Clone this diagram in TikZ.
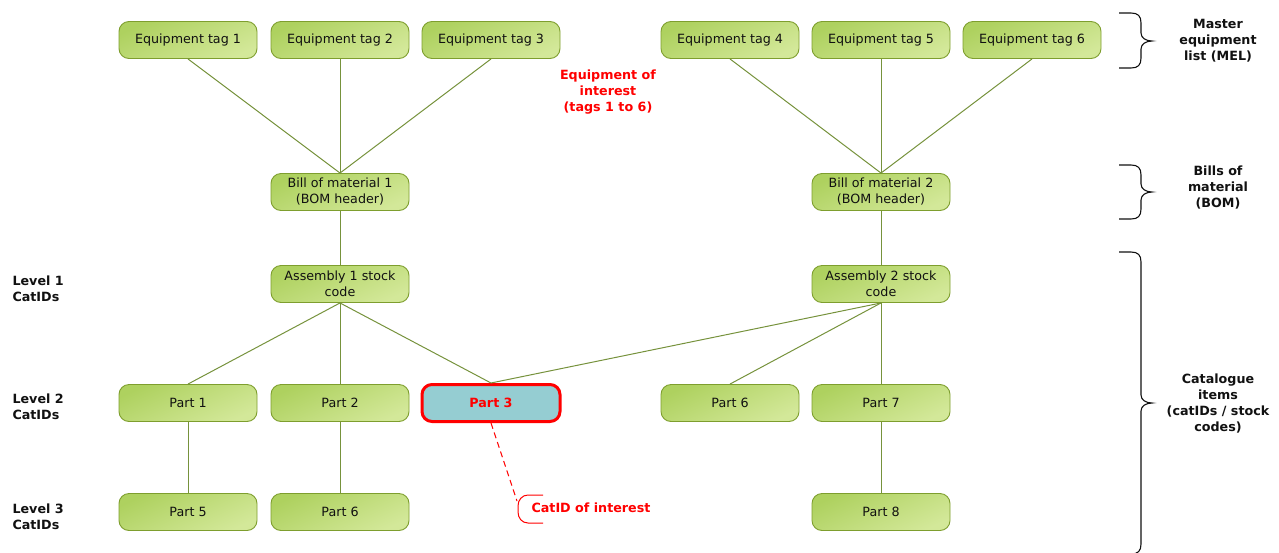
\documentclass[tikz,border=0pt]{standalone}
\usepackage{fontspec}
\setmainfont{DejaVu Sans}
\definecolor{boxdark}{HTML}{AED15F}
\definecolor{boxlight}{HTML}{D3E899}
\definecolor{boxedge}{HTML}{7E9E2E}
\definecolor{linkgreen}{HTML}{76923C}
\definecolor{focusfill}{HTML}{95CDD2}
\definecolor{hilite}{HTML}{FF0000}
\definecolor{inktext}{HTML}{111111}
\begin{document}
\begin{tikzpicture}[x=1pt,y=-1pt,
  every node/.style={font=\fontsize{12.7}{16}\selectfont, text=inktext},
  itembox/.style={draw=boxedge, line width=0.9pt, rounded corners=10pt,
    top color=boxdark, bottom color=boxlight, shading angle=25,
    minimum width=138pt, minimum height=37pt, inner sep=0pt, align=center},
  focusbox/.style={draw=hilite, line width=3pt, rounded corners=10pt,
    fill=focusfill, minimum width=138pt, minimum height=37pt, inner sep=0pt,
    align=center, font=\fontsize{12.7}{16}\selectfont\bfseries, text=hilite},
  link/.style={draw=linkgreen, line width=1pt},
  sidelabel/.style={font=\fontsize{12.7}{16}\selectfont\bfseries, align=center},
  levellabel/.style={font=\fontsize{12.7}{16}\selectfont\bfseries, align=left, anchor=west},
  note/.style={font=\fontsize{12.7}{16}\selectfont\bfseries, text=hilite, align=center},
  curly/.style={draw=inktext, line width=1.1pt}
]
\useasboundingbox (0,0) rectangle (1279,552);

% master equipment list
\node[itembox] (t1) at (188,40) {Equipment tag 1};
\node[itembox] (t2) at (340,40) {Equipment tag 2};
\node[itembox] (t3) at (491,40) {Equipment tag 3};
\node[itembox] (t4) at (730,40) {Equipment tag 4};
\node[itembox] (t5) at (881,40) {Equipment tag 5};
\node[itembox] (t6) at (1032,40) {Equipment tag 6};

% bills of material
\node[itembox] (b1) at (340,192) {Bill of material 1\\(BOM header)};
\node[itembox] (b2) at (881,192) {Bill of material 2\\(BOM header)};

% level 1
\node[itembox] (a1) at (340,284) {Assembly 1 stock\\code};
\node[itembox] (a2) at (881,284) {Assembly 2 stock\\code};

% level 2
\node[itembox] (p1) at (188,403) {Part 1};
\node[itembox] (p2) at (340,403) {Part 2};
\node[focusbox] (p3) at (491,403) {Part 3};
\node[itembox] (p6) at (730,403) {Part 6};
\node[itembox] (p7) at (881,403) {Part 7};

% level 3
\node[itembox] (p5) at (188,512) {Part 5};
\node[itembox] (p6b) at (340,512) {Part 6};
\node[itembox] (p8) at (881,512) {Part 8};

% links
\foreach \t in {t1,t2,t3} \draw[link] (\t.south) -- (b1.north);
\foreach \t in {t4,t5,t6} \draw[link] (\t.south) -- (b2.north);
\draw[link] (b1.south) -- (a1.north);
\draw[link] (b2.south) -- (a2.north);
\foreach \p in {p1,p2,p3} \draw[link] (a1.south) -- (\p.north);
\foreach \p in {p3,p6,p7} \draw[link] (a2.south) -- (\p.north);
\draw[link] (p1.south) -- (p5.north);
\draw[link] (p2.south) -- (p6b.north);
\draw[link] (p7.south) -- (p8.north);

% callouts
\node[note] (eoi) at (608,92) {Equipment of\\interest\\(tags 1 to 6)};
\coordinate (catpt) at (517,501);
\draw[hilite, line width=1pt, dash pattern=on 6pt off 4pt] (p3.south) -- (catpt);
\draw[hilite, line width=1pt] (543,495) -- (528,495)
  .. controls (522,495) and (518,500) .. (518,506) -- (518,512)
  .. controls (518,518) and (522,523) .. (528,523) -- (543,523);
\node[note, anchor=west] (cat) at (528,508) {CatID of interest};

% level labels
\node[levellabel] (l1) at (9,289) {Level 1\\CatIDs};
\node[levellabel] (l2) at (9,407) {Level 2\\CatIDs};
\node[levellabel] (l3) at (9,517) {Level 3\\CatIDs};

% right-hand braces
\newcommand\groupcurly[3]{%
  \draw[curly] (1119,#1) -- (1131,#1)
    .. controls (1138,#1) and (1141,{#1+3}) .. (1141,{#1+10})
    -- (1141,{#2-8})
    .. controls (1141,{#2-3}) and (1146,#2) .. (1152,#2)
    .. controls (1146,#2) and (1141,{#2+3}) .. (1141,{#2+8})
    -- (1141,{#3-10})
    .. controls (1141,{#3-3}) and (1138,#3) .. (1131,#3) -- (1119,#3);}
\groupcurly{13}{41}{68}
\groupcurly{165}{192}{219}
\groupcurly{252}{403}{554}

\node[sidelabel] (mel) at (1218,41) {Master\\equipment\\list (MEL)};
\node[sidelabel] (bom) at (1218,188) {Bills of\\material\\(BOM)};
\node[sidelabel] (cat2) at (1218,404) {Catalogue\\items\\(catIDs / stock\\codes)};
\end{tikzpicture}
\end{document}
